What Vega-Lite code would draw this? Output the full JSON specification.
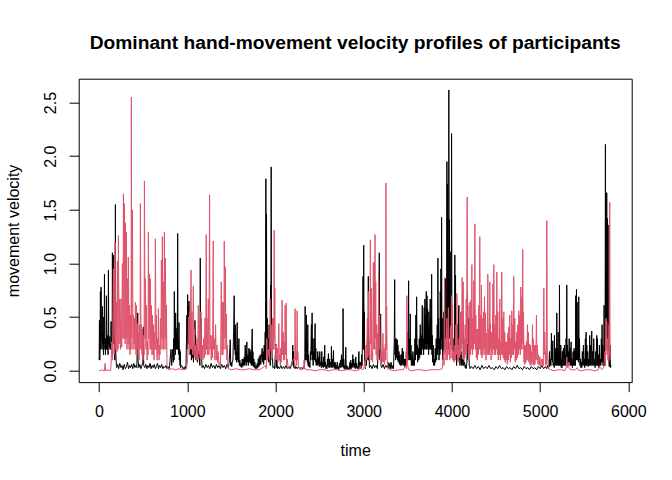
{
  "$schema": "https://vega.github.io/schema/vega-lite/v6.json",
  "width": 553,
  "height": 303.4,
  "autosize": {"type": "none"},
  "padding": {"left": 78.7, "top": 78.7, "right": 40.3, "bottom": 97.9},
  "background": "white",
  "title": {
    "text": "Dominant hand-movement velocity profiles of participants",
    "font": "Liberation Sans",
    "fontSize": 19.2,
    "fontWeight": "bold",
    "color": "black",
    "anchor": "middle",
    "frame": "group",
    "baseline": "alphabetic",
    "offset": 10.2
  },
  "config": {
    "view": {"stroke": "black", "strokeWidth": 1},
    "axis": {
      "domain": false,
      "grid": false,
      "tickColor": "black",
      "tickSize": 9.6,
      "tickWidth": 1,
      "labelFont": "Liberation Sans",
      "labelFontSize": 16,
      "labelColor": "black",
      "titleFont": "Liberation Sans",
      "titleFontSize": 16,
      "titleFontWeight": "normal",
      "titleColor": "black"
    }
  },
  "datasets": {
    "black": [
      {"t":1,"v":0.1},{"t":4,"v":0.47},{"t":8,"v":0.1},{"t":12,"v":0.35},{"t":15,"v":0.74},{"t":19,"v":0.2},{"t":23,"v":0.78},{"t":27,"v":0.3},{"t":31,"v":0.35},{"t":34,"v":0.2},{"t":38,"v":0.6},{"t":42,"v":0.25},{"t":46,"v":0.35},{"t":50,"v":0.15},{"t":53,"v":0.5},{"t":57,"v":0.2},{"t":61,"v":0.9},{"t":65,"v":0.25},{"t":68,"v":0.3},{"t":72,"v":0.15},{"t":76,"v":0.3},{"t":80,"v":0.2},{"t":83,"v":0.7},{"t":87,"v":0.2},{"t":91,"v":0.3},{"t":95,"v":0.2},{"t":98,"v":0.33},{"t":102,"v":0.15},{"t":106,"v":0.94},{"t":110,"v":0.25},{"t":113,"v":0.3},{"t":117,"v":0.22},{"t":121,"v":0.32},{"t":125,"v":0.2},{"t":129,"v":0.25},{"t":133,"v":0.2},{"t":136,"v":0.46},{"t":140,"v":0.2},{"t":144,"v":0.3},{"t":148,"v":0.25},{"t":151,"v":1.1},{"t":155,"v":0.3},{"t":159,"v":0.35},{"t":163,"v":0.25},{"t":166,"v":1.08},{"t":170,"v":0.25},{"t":174,"v":0.3},{"t":178,"v":0.1},{"t":182,"v":0.5},{"t":185,"v":1.55},{"t":189,"v":0.2},{"t":193,"v":0.1},{"t":197,"v":0.05},{"t":200,"v":0.03},
      {"t":210,"v":0.06},{"t":222,"v":0.02},{"t":235,"v":0.07},{"t":248,"v":0.03},{"t":260,"v":0.05},{"t":272,"v":0.01},{"t":285,"v":0.06},{"t":298,"v":0.02},{"t":310,"v":0.04},{"t":322,"v":0.08},{"t":334,"v":0.02},{"t":346,"v":0.05},{"t":358,"v":0.03},{"t":370,"v":0.06},{"t":382,"v":0.02},{"t":394,"v":0.07},{"t":406,"v":0.03},{"t":418,"v":0.05},{"t":428,"v":0.03},{"t":434,"v":0.25},{"t":438,"v":0.54},{"t":442,"v":0.1},{"t":450,"v":0.03},{"t":462,"v":0.06},{"t":474,"v":0.02},{"t":486,"v":0.05},{"t":496,"v":0.08},{"t":502,"v":0.41},{"t":506,"v":0.05},{"t":518,"v":0.03},{"t":530,"v":0.06},{"t":542,"v":0.02},{"t":554,"v":0.05},{"t":566,"v":0.03},{"t":578,"v":0.07},{"t":590,"v":0.02},{"t":602,"v":0.05},{"t":614,"v":0.03},{"t":626,"v":0.06},{"t":638,"v":0.02},{"t":650,"v":0.04},{"t":662,"v":0.07},{"t":674,"v":0.02},{"t":686,"v":0.05},{"t":698,"v":0.03},{"t":710,"v":0.06},{"t":722,"v":0.02},{"t":734,"v":0.04},{"t":746,"v":0.03},{"t":758,"v":0.05},{"t":770,"v":0.02},{"t":782,"v":0.04},{"t":794,"v":0.02},
      {"t":800,"v":0.05},{"t":815,"v":0.2},{"t":823,"v":0.05},{"t":834,"v":0.2},{"t":842,"v":0.08},{"t":846,"v":0.3},{"t":850,"v":0.1},{"t":853,"v":0.74},{"t":857,"v":0.2},{"t":861,"v":0.3},{"t":864,"v":0.15},{"t":868,"v":0.54},{"t":872,"v":0.25},{"t":876,"v":0.35},{"t":880,"v":0.2},{"t":883,"v":0.4},{"t":887,"v":0.2},{"t":891,"v":1.28},{"t":895,"v":0.2},{"t":898,"v":0.3},{"t":902,"v":0.15},{"t":906,"v":0.45},{"t":910,"v":0.1},{"t":914,"v":0.2},{"t":918,"v":0.05},{"t":921,"v":0.18},{"t":925,"v":0.03},{"t":929,"v":0.05},{"t":944,"v":0.04},{"t":952,"v":0.02},{"t":959,"v":0.03},{"t":967,"v":0.01},{"t":974,"v":0.04},{"t":985,"v":0.02},
      {"t":996,"v":0.52},{"t":1000,"v":0.2},{"t":1004,"v":0.71},{"t":1008,"v":0.3},{"t":1011,"v":0.6},{"t":1015,"v":0.25},{"t":1019,"v":0.65},{"t":1023,"v":0.3},{"t":1026,"v":0.49},{"t":1030,"v":0.2},{"t":1034,"v":0.38},{"t":1038,"v":0.15},{"t":1042,"v":0.27},{"t":1047,"v":0.1},{"t":1053,"v":0.3},{"t":1058,"v":0.12},{"t":1064,"v":0.18},{"t":1070,"v":0.08},{"t":1076,"v":0.24},{"t":1081,"v":0.15},{"t":1087,"v":0.47},{"t":1091,"v":0.2},{"t":1094,"v":0.33},{"t":1098,"v":0.1},{"t":1102,"v":0.24},{"t":1106,"v":0.1},{"t":1110,"v":0.22},{"t":1115,"v":0.08},{"t":1125,"v":0.18},{"t":1136,"v":0.11},{"t":1143,"v":0.05},{"t":1147,"v":1.05},{"t":1151,"v":0.2},{"t":1155,"v":0.49},{"t":1159,"v":0.1},{"t":1162,"v":0.11},{"t":1168,"v":0.03},
      {"t":1180,"v":0.05},{"t":1195,"v":0.02},{"t":1210,"v":0.06},{"t":1225,"v":0.03},{"t":1240,"v":0.05},{"t":1255,"v":0.02},{"t":1270,"v":0.07},{"t":1285,"v":0.03},{"t":1300,"v":0.05},{"t":1315,"v":0.02},{"t":1330,"v":0.06},{"t":1345,"v":0.03},{"t":1360,"v":0.05},{"t":1375,"v":0.02},{"t":1390,"v":0.06},{"t":1405,"v":0.03},{"t":1420,"v":0.05},{"t":1435,"v":0.02},{"t":1450,"v":0.06},{"t":1465,"v":0.03},
      {"t":1475,"v":0.08},{"t":1487,"v":0.29},{"t":1492,"v":0.05},{"t":1498,"v":0.08},{"t":1504,"v":0.04},{"t":1510,"v":0.08},{"t":1517,"v":0.1},{"t":1525,"v":0.36},{"t":1532,"v":0.7},{"t":1536,"v":0.2},{"t":1540,"v":0.33},{"t":1544,"v":0.15},{"t":1547,"v":0.43},{"t":1551,"v":0.1},{"t":1555,"v":0.18},{"t":1559,"v":0.08},{"t":1566,"v":0.45},{"t":1570,"v":0.1},{"t":1574,"v":0.24},{"t":1578,"v":0.08},{"t":1585,"v":0.3},{"t":1590,"v":0.05},{"t":1596,"v":0.1},{"t":1602,"v":0.04},{"t":1611,"v":0.07},{"t":1617,"v":0.03},{"t":1623,"v":0.11},{"t":1628,"v":0.04},{"t":1634,"v":0.11},{"t":1640,"v":0.05},{"t":1646,"v":0.13},{"t":1651,"v":0.05},{"t":1657,"v":0.24},{"t":1661,"v":0.08},{"t":1664,"v":0.18},{"t":1668,"v":0.05},{"t":1675,"v":0.27},{"t":1680,"v":0.08},{"t":1687,"v":0.15},{"t":1692,"v":0.05},{"t":1698,"v":0.21},{"t":1703,"v":0.08},{"t":1710,"v":0.2},{"t":1715,"v":0.07},{"t":1721,"v":0.18},{"t":1726,"v":0.05},{"t":1736,"v":0.39},{"t":1740,"v":0.05},{"t":1744,"v":0.18},{"t":1750,"v":0.04},{"t":1755,"v":0.11},{"t":1760,"v":0.03},{"t":1766,"v":0.08},{"t":1772,"v":0.02},{"t":1781,"v":0.05},{"t":1788,"v":0.02},{"t":1793,"v":0.07},{"t":1800,"v":0.03},{"t":1804,"v":0.11},{"t":1810,"v":0.04},{"t":1815,"v":0.13},{"t":1820,"v":0.05},{"t":1827,"v":0.15},{"t":1833,"v":0.06},{"t":1849,"v":0.21},{"t":1855,"v":0.08},{"t":1861,"v":0.18},{"t":1866,"v":0.06},{"t":1872,"v":0.24},{"t":1878,"v":0.1},{"t":1883,"v":0.36},{"t":1887,"v":0.1},{"t":1891,"v":1.79},{"t":1894,"v":0.3},{"t":1898,"v":1.46},{"t":1902,"v":0.2},{"t":1906,"v":0.49},{"t":1911,"v":0.1},{"t":1917,"v":0.3},{"t":1923,"v":0.08},{"t":1928,"v":0.43},{"t":1932,"v":0.1},{"t":1936,"v":0.18},{"t":1940,"v":0.05},{"t":1944,"v":0.8},{"t":1947,"v":0.3},{"t":1951,"v":1.9},{"t":1955,"v":0.2},{"t":1958,"v":0.36},{"t":1962,"v":0.1},{"t":1966,"v":0.11},{"t":1970,"v":0.03},
      {"t":1985,"v":0.04},{"t":1990,"v":0.02},{"t":2004,"v":0.25},{"t":2008,"v":0.03},{"t":2015,"v":0.11},{"t":2022,"v":0.02},{"t":2030,"v":0.04},{"t":2045,"v":0.02},{"t":2060,"v":0.05},{"t":2075,"v":0.02},{"t":2090,"v":0.04},{"t":2105,"v":0.02},{"t":2120,"v":0.05},{"t":2135,"v":0.02},{"t":2150,"v":0.04},{"t":2165,"v":0.02},{"t":2180,"v":0.05},{"t":2192,"v":0.1},{"t":2196,"v":0.24},{"t":2200,"v":0.05},{"t":2204,"v":0.18},{"t":2208,"v":0.03},{"t":2215,"v":0.08},{"t":2222,"v":0.02},{"t":2230,"v":0.04},{"t":2245,"v":0.02},{"t":2260,"v":0.04},{"t":2275,"v":0.02},{"t":2290,"v":0.03},{"t":2305,"v":0.02},{"t":2318,"v":0.04},{"t":2326,"v":0.02},{"t":2332,"v":0.1},
      {"t":2336,"v":0.6},{"t":2340,"v":0.1},{"t":2344,"v":0.3},{"t":2348,"v":0.15},{"t":2351,"v":0.52},{"t":2355,"v":0.1},{"t":2358,"v":0.24},{"t":2362,"v":0.08},{"t":2366,"v":0.43},{"t":2370,"v":0.05},{"t":2373,"v":0.15},{"t":2377,"v":0.04},{"t":2385,"v":0.08},{"t":2390,"v":0.03},{"t":2396,"v":0.18},{"t":2400,"v":0.1},{"t":2407,"v":0.43},{"t":2411,"v":0.15},{"t":2415,"v":0.54},{"t":2419,"v":0.1},{"t":2423,"v":0.3},{"t":2427,"v":0.05},{"t":2430,"v":0.18},{"t":2435,"v":0.1},{"t":2438,"v":0.3},{"t":2442,"v":0.1},{"t":2449,"v":0.44},{"t":2453,"v":0.08},{"t":2457,"v":0.21},{"t":2461,"v":0.05},{"t":2468,"v":0.11},{"t":2474,"v":0.05},{"t":2479,"v":0.18},{"t":2485,"v":0.06},{"t":2490,"v":0.13},{"t":2496,"v":0.04},{"t":2502,"v":0.18},{"t":2508,"v":0.05},{"t":2513,"v":0.08},{"t":2519,"v":0.03},{"t":2525,"v":0.18},{"t":2530,"v":0.04},{"t":2536,"v":0.08},{"t":2542,"v":0.03},{"t":2547,"v":0.13},{"t":2553,"v":0.04},{"t":2558,"v":0.24},{"t":2562,"v":0.04},{"t":2566,"v":0.08},{"t":2572,"v":0.02},{"t":2577,"v":0.05},{"t":2583,"v":0.02},{"t":2589,"v":0.11},{"t":2594,"v":0.04},{"t":2600,"v":0.16},{"t":2606,"v":0.03},{"t":2611,"v":0.11},{"t":2617,"v":0.03},{"t":2624,"v":0.08},{"t":2630,"v":0.04},{"t":2634,"v":0.23},{"t":2638,"v":0.03},{"t":2645,"v":0.11},{"t":2650,"v":0.03},{"t":2657,"v":0.19},{"t":2661,"v":0.04},{"t":2665,"v":0.08},{"t":2672,"v":0.02},{"t":2676,"v":0.08},{"t":2683,"v":0.02},{"t":2687,"v":0.05},{"t":2693,"v":0.02},{"t":2700,"v":0.08},{"t":2706,"v":0.02},{"t":2712,"v":0.04},{"t":2718,"v":0.01},{"t":2725,"v":0.07},{"t":2731,"v":0.03},{"t":2737,"v":0.1},{"t":2742,"v":0.03},{"t":2748,"v":0.15},{"t":2754,"v":0.04},{"t":2760,"v":0.11},{"t":2763,"v":0.04},{"t":2766,"v":0.58},{"t":2770,"v":0.03},{"t":2774,"v":0.11},{"t":2778,"v":0.02},{"t":2785,"v":0.05},{"t":2790,"v":0.01},{"t":2797,"v":0.22},{"t":2802,"v":0.02},{"t":2808,"v":0.05},{"t":2814,"v":0.01},{"t":2820,"v":0.04},{"t":2826,"v":0.01},{"t":2830,"v":0.02},{"t":2836,"v":0.01},{"t":2843,"v":0.08},{"t":2849,"v":0.02},{"t":2853,"v":0.1},{"t":2859,"v":0.02},{"t":2864,"v":0.07},{"t":2870,"v":0.03},{"t":2876,"v":0.15},{"t":2881,"v":0.04},{"t":2887,"v":0.11},{"t":2892,"v":0.03},{"t":2898,"v":0.07},{"t":2904,"v":0.02},{"t":2910,"v":0.13},{"t":2915,"v":0.03},{"t":2921,"v":0.07},{"t":2927,"v":0.02},{"t":2932,"v":0.04},{"t":2938,"v":0.02},{"t":2945,"v":0.18},{"t":2950,"v":0.03},{"t":2955,"v":0.08},{"t":2960,"v":0.02},{"t":2966,"v":0.08},{"t":2972,"v":0.03},{"t":2977,"v":0.15},{"t":2981,"v":0.05},{"t":2985,"v":0.24},
      {"t":2992,"v":0.88},{"t":2996,"v":0.2},{"t":3000,"v":1.17},{"t":3004,"v":0.2},{"t":3007,"v":0.55},{"t":3011,"v":0.1},{"t":3015,"v":0.08},{"t":3020,"v":0.02},{"t":3026,"v":0.13},{"t":3030,"v":0.05},{"t":3045,"v":0.33},{"t":3049,"v":0.1},{"t":3052,"v":0.88},{"t":3056,"v":0.1},{"t":3060,"v":0.2},{"t":3065,"v":0.03},{"t":3080,"v":0.05},{"t":3095,"v":0.02},{"t":3110,"v":0.06},{"t":3125,"v":0.03},{"t":3140,"v":0.05},{"t":3155,"v":0.02},{"t":3165,"v":0.2},{"t":3177,"v":1.1},{"t":3181,"v":0.1},{"t":3185,"v":0.2},{"t":3192,"v":0.53},{"t":3196,"v":0.05},{"t":3205,"v":0.03},{"t":3220,"v":0.06},{"t":3235,"v":0.02},{"t":3250,"v":0.05},{"t":3265,"v":0.03},{"t":3275,"v":0.08},{"t":3285,"v":0.02},{"t":3296,"v":0.07},{"t":3303,"v":0.02},{"t":3310,"v":0.08},{"t":3320,"v":0.02},{"t":3330,"v":0.05},{"t":3338,"v":0.02},{"t":3347,"v":0.3},{"t":3351,"v":0.85},{"t":3355,"v":0.15},{"t":3358,"v":0.3},{"t":3362,"v":0.1},{"t":3369,"v":0.3},{"t":3373,"v":0.12},{"t":3380,"v":0.29},{"t":3385,"v":0.1},{"t":3388,"v":0.24},{"t":3392,"v":0.08},{"t":3400,"v":0.18},{"t":3405,"v":0.06},{"t":3411,"v":0.15},{"t":3417,"v":0.05},{"t":3426,"v":0.15},{"t":3431,"v":0.05},{"t":3437,"v":0.21},{"t":3441,"v":0.06},{"t":3449,"v":0.18},{"t":3454,"v":0.05},{"t":3460,"v":0.11},{"t":3466,"v":0.04},{"t":3471,"v":0.11},{"t":3477,"v":0.04},{"t":3483,"v":0.18},{"t":3488,"v":0.08},{"t":3498,"v":0.36},{"t":3503,"v":0.1},{"t":3509,"v":0.84},{"t":3513,"v":0.15},{"t":3517,"v":0.3},{"t":3521,"v":0.1},{"t":3528,"v":0.53},{"t":3532,"v":0.1},{"t":3536,"v":0.24},{"t":3540,"v":0.05},{"t":3547,"v":0.15},{"t":3553,"v":0.05},{"t":3558,"v":0.18},{"t":3564,"v":0.05},{"t":3570,"v":0.11},{"t":3575,"v":0.05},{"t":3581,"v":0.3},{"t":3585,"v":0.1},{"t":3592,"v":0.52},{"t":3596,"v":0.15},{"t":3600,"v":0.69},{"t":3604,"v":0.2},{"t":3607,"v":0.24},{"t":3611,"v":0.08},{"t":3619,"v":0.21},{"t":3624,"v":0.1},{"t":3630,"v":0.3},{"t":3634,"v":0.12},{"t":3641,"v":0.43},{"t":3646,"v":0.15},{"t":3652,"v":0.33},{"t":3656,"v":0.15},{"t":3664,"v":0.61},{"t":3668,"v":0.2},{"t":3675,"v":0.3},{"t":3679,"v":0.15},{"t":3686,"v":0.59},{"t":3690,"v":0.2},{"t":3694,"v":0.67},{"t":3698,"v":0.25},{"t":3702,"v":0.52},{"t":3705,"v":0.2},{"t":3709,"v":0.74},{"t":3713,"v":0.2},{"t":3717,"v":0.7},{"t":3721,"v":0.25},{"t":3724,"v":0.58},{"t":3728,"v":0.2},{"t":3732,"v":0.43},{"t":3736,"v":0.15},{"t":3739,"v":0.55},{"t":3743,"v":0.2},{"t":3754,"v":0.67},{"t":3758,"v":0.2},{"t":3762,"v":0.49},{"t":3766,"v":0.2},{"t":3770,"v":0.9},{"t":3774,"v":0.15},{"t":3777,"v":0.33},{"t":3781,"v":0.08},{"t":3788,"v":0.24},{"t":3792,"v":0.05},{"t":3800,"v":0.11},{"t":3804,"v":0.05},{"t":3811,"v":0.21},{"t":3815,"v":0.08},{"t":3822,"v":0.3},{"t":3826,"v":0.1},{"t":3834,"v":0.43},{"t":3838,"v":0.15},{"t":3841,"v":1.05},{"t":3845,"v":0.2},{"t":3849,"v":0.49},{"t":3853,"v":0.1},{"t":3860,"v":0.3},{"t":3864,"v":0.15},{"t":3868,"v":0.74},{"t":3872,"v":0.2},{"t":3875,"v":0.95},{"t":3879,"v":0.3},{"t":3883,"v":1.43},{"t":3887,"v":0.2},{"t":3890,"v":0.49},{"t":3894,"v":0.1},{"t":3898,"v":0.27},{"t":3902,"v":0.1},{"t":3909,"v":0.55},{"t":3913,"v":0.2},{"t":3917,"v":0.8},{"t":3921,"v":0.25},{"t":3928,"v":0.86},{"t":3932,"v":0.2},{"t":3936,"v":0.43},{"t":3940,"v":0.2},{"t":3943,"v":1.95},{"t":3946,"v":0.4},{"t":3950,"v":1.74},{"t":3954,"v":0.3},{"t":3957,"v":0.8},{"t":3961,"v":0.2},{"t":3965,"v":2.617},{"t":3969,"v":0.4},{"t":3972,"v":1.41},{"t":3976,"v":0.3},{"t":3980,"v":1.11},{"t":3984,"v":0.27},{"t":3988,"v":0.24},{"t":3993,"v":0.3},{"t":3996,"v":2.21},{"t":4000,"v":0.4},{"t":4004,"v":0.49},{"t":4008,"v":0.2},{"t":4011,"v":0.3},{"t":4015,"v":0.1},{"t":4018,"v":0.18},{"t":4022,"v":0.1},{"t":4026,"v":0.3},{"t":4030,"v":0.2},{"t":4033,"v":1.08},{"t":4037,"v":0.3},{"t":4041,"v":0.89},{"t":4045,"v":0.1},{"t":4049,"v":0.24},{"t":4053,"v":0.05},{"t":4056,"v":0.15},{"t":4064,"v":0.43},{"t":4070,"v":0.2},{"t":4075,"v":0.5},{"t":4079,"v":0.61},{"t":4083,"v":0.1},{"t":4087,"v":0.24},{"t":4091,"v":0.05},{"t":4098,"v":0.15},{"t":4106,"v":0.18},{"t":4110,"v":0.05},{"t":4120,"v":0.11},{"t":4126,"v":0.05},{"t":4131,"v":0.46},{"t":4135,"v":0.05},{"t":4143,"v":0.08},{"t":4150,"v":0.03},{"t":4156,"v":0.05},{"t":4162,"v":0.02},{"t":4170,"v":0.08},{"t":4174,"v":0.3},{"t":4177,"v":0.72},{"t":4181,"v":0.1},{"t":4185,"v":0.3},{"t":4189,"v":0.15},{"t":4192,"v":0.49},{"t":4196,"v":0.05},{"t":4200,"v":0.05},{"t":4205,"v":0.02},
      {"t":4220,"v":0.04},{"t":4240,"v":0.02},{"t":4260,"v":0.05},{"t":4280,"v":0.02},{"t":4300,"v":0.04},{"t":4320,"v":0.01},{"t":4340,"v":0.05},{"t":4360,"v":0.02},{"t":4380,"v":0.04},{"t":4400,"v":0.02},{"t":4420,"v":0.05},{"t":4440,"v":0.02},{"t":4460,"v":0.03},{"t":4480,"v":0.01},{"t":4500,"v":0.04},{"t":4520,"v":0.02},{"t":4540,"v":0.05},{"t":4560,"v":0.02},{"t":4580,"v":0.03},{"t":4600,"v":0.01},{"t":4620,"v":0.04},{"t":4640,"v":0.02},{"t":4660,"v":0.03},{"t":4680,"v":0.01},{"t":4700,"v":0.04},{"t":4720,"v":0.02},{"t":4740,"v":0.05},{"t":4760,"v":0.02},{"t":4780,"v":0.03},{"t":4800,"v":0.01},{"t":4820,"v":0.04},{"t":4840,"v":0.02},{"t":4860,"v":0.03},{"t":4880,"v":0.01},{"t":4900,"v":0.04},{"t":4920,"v":0.02},{"t":4940,"v":0.03},{"t":4960,"v":0.01},{"t":4980,"v":0.04},{"t":5000,"v":0.02},{"t":5020,"v":0.05},{"t":5040,"v":0.02},{"t":5060,"v":0.04},{"t":5075,"v":0.02},{"t":5085,"v":0.05},{"t":5095,"v":0.02},
      {"t":5100,"v":0.05},{"t":5106,"v":0.18},{"t":5110,"v":0.04},{"t":5117,"v":0.11},{"t":5122,"v":0.05},{"t":5128,"v":0.35},{"t":5132,"v":0.1},{"t":5136,"v":0.18},{"t":5140,"v":0.08},{"t":5143,"v":0.28},{"t":5147,"v":0.05},{"t":5155,"v":0.08},{"t":5160,"v":0.03},{"t":5162,"v":0.33},{"t":5166,"v":0.08},{"t":5170,"v":0.21},{"t":5174,"v":0.05},{"t":5181,"v":0.18},{"t":5185,"v":0.05},{"t":5189,"v":0.54},{"t":5193,"v":0.08},{"t":5196,"v":0.21},{"t":5200,"v":0.05},{"t":5204,"v":0.36},{"t":5208,"v":0.05},{"t":5212,"v":0.18},{"t":5216,"v":0.05},{"t":5219,"v":0.8},{"t":5223,"v":0.05},{"t":5228,"v":0.18},{"t":5232,"v":0.05},{"t":5234,"v":0.24},{"t":5240,"v":0.03},{"t":5242,"v":0.11},{"t":5248,"v":0.03},{"t":5253,"v":0.18},{"t":5258,"v":0.05},{"t":5264,"v":0.21},{"t":5270,"v":0.05},{"t":5276,"v":0.24},{"t":5280,"v":0.05},{"t":5283,"v":0.15},{"t":5290,"v":0.05},{"t":5294,"v":0.3},{"t":5298,"v":0.1},{"t":5302,"v":0.8},{"t":5306,"v":0.08},{"t":5310,"v":0.24},{"t":5315,"v":0.05},{"t":5321,"v":0.18},{"t":5325,"v":0.05},{"t":5329,"v":0.3},{"t":5333,"v":0.08},{"t":5340,"v":0.21},{"t":5344,"v":0.05},{"t":5351,"v":0.27},{"t":5355,"v":0.05},{"t":5362,"v":0.11},{"t":5366,"v":0.03},{"t":5374,"v":0.18},{"t":5378,"v":0.05},{"t":5385,"v":0.21},{"t":5390,"v":0.05},{"t":5396,"v":0.18},{"t":5400,"v":0.05},{"t":5404,"v":0.7},{"t":5408,"v":0.1},{"t":5412,"v":0.76},{"t":5416,"v":0.1},{"t":5419,"v":0.64},{"t":5423,"v":0.1},{"t":5430,"v":0.24},{"t":5434,"v":0.08},{"t":5438,"v":0.69},{"t":5442,"v":0.1},{"t":5446,"v":0.3},{"t":5451,"v":0.05},{"t":5457,"v":0.11},{"t":5462,"v":0.03},{"t":5468,"v":0.08},{"t":5472,"v":0.03},{"t":5479,"v":0.18},{"t":5483,"v":0.05},{"t":5491,"v":0.24},{"t":5495,"v":0.05},{"t":5502,"v":0.11},{"t":5506,"v":0.03},{"t":5513,"v":0.3},{"t":5517,"v":0.05},{"t":5521,"v":0.36},{"t":5525,"v":0.05},{"t":5529,"v":0.24},{"t":5533,"v":0.05},{"t":5540,"v":0.18},{"t":5545,"v":0.04},{"t":5551,"v":0.11},{"t":5556,"v":0.05},{"t":5562,"v":0.33},{"t":5566,"v":0.05},{"t":5573,"v":0.24},{"t":5577,"v":0.05},{"t":5585,"v":0.37},{"t":5589,"v":0.05},{"t":5596,"v":0.18},{"t":5600,"v":0.05},{"t":5608,"v":0.3},{"t":5612,"v":0.05},{"t":5619,"v":0.11},{"t":5623,"v":0.03},{"t":5630,"v":0.18},{"t":5634,"v":0.05},{"t":5642,"v":0.33},{"t":5646,"v":0.05},{"t":5649,"v":0.3},{"t":5653,"v":0.05},{"t":5661,"v":0.15},{"t":5665,"v":0.03},{"t":5672,"v":0.24},{"t":5676,"v":0.05},{"t":5683,"v":0.11},{"t":5688,"v":0.05},{"t":5694,"v":0.3},{"t":5698,"v":0.08},{"t":5702,"v":0.43},{"t":5706,"v":0.08},{"t":5710,"v":0.24},{"t":5714,"v":0.05},{"t":5717,"v":0.18},{"t":5721,"v":0.05},{"t":5725,"v":0.61},{"t":5729,"v":0.05},{"t":5733,"v":0.18},{"t":5736,"v":0.05},{"t":5740,"v":2.11},{"t":5744,"v":0.3},{"t":5747,"v":0.92},{"t":5751,"v":0.2},{"t":5755,"v":1.66},{"t":5759,"v":0.3},{"t":5762,"v":1.42},{"t":5766,"v":0.2},{"t":5770,"v":1.36},{"t":5774,"v":0.1},{"t":5777,"v":0.24},{"t":5781,"v":0.05},{"t":5785,"v":0.04},{"t":5793,"v":0.24},{"t":5797,"v":0.03},{"t":5804,"v":0.05}
    ],
    "red": [
      {"t":1,"v":0},{"t":30,"v":0.01},{"t":60,"v":0},{"t":68,"v":0.07},{"t":76,"v":0},{"t":100,"v":0.01},{"t":130,"v":0},
      {"t":136,"v":0.05},{"t":144,"v":0.27},{"t":151,"v":0.1},{"t":163,"v":0.95},{"t":170,"v":0.15},{"t":181,"v":1.2},{"t":189,"v":0.2},{"t":197,"v":0.64},{"t":204,"v":0.18},{"t":208,"v":1.02},{"t":215,"v":0.2},{"t":219,"v":1.26},{"t":227,"v":0.25},{"t":234,"v":0.67},{"t":242,"v":0.2},{"t":249,"v":0.67},{"t":257,"v":0.22},{"t":264,"v":1.0},{"t":272,"v":0.3},{"t":276,"v":1.65},{"t":283,"v":0.3},{"t":287,"v":1.56},{"t":295,"v":0.25},{"t":298,"v":1.38},{"t":306,"v":0.3},{"t":310,"v":1.29},{"t":317,"v":0.2},{"t":321,"v":0.86},{"t":329,"v":0.25},{"t":332,"v":1.06},{"t":340,"v":0.2},{"t":344,"v":0.61},{"t":351,"v":0.15},{"t":355,"v":0.52},{"t":363,"v":0.2},{"t":366,"v":2.55},{"t":370,"v":0.3},{"t":378,"v":1.5},{"t":385,"v":0.2},{"t":389,"v":0.52},{"t":397,"v":0.25},{"t":400,"v":0.49},{"t":408,"v":0.2},{"t":412,"v":0.64},{"t":419,"v":0.15},{"t":423,"v":0.61},{"t":430,"v":0.2},{"t":434,"v":0.44},{"t":442,"v":0.15},{"t":446,"v":0.36},{"t":453,"v":0.1},{"t":457,"v":0.43},{"t":465,"v":0.2},{"t":468,"v":1.56},{"t":476,"v":0.2},{"t":480,"v":0.43},{"t":487,"v":0.15},{"t":491,"v":0.39},{"t":498,"v":0.1},{"t":502,"v":0.33},{"t":510,"v":0.15},{"t":514,"v":1.77},{"t":521,"v":0.3},{"t":525,"v":0.86},{"t":532,"v":0.2},{"t":536,"v":0.61},{"t":544,"v":0.1},{"t":548,"v":0.27},{"t":555,"v":0.15},{"t":559,"v":1.29},{"t":566,"v":0.3},{"t":570,"v":0.9},{"t":578,"v":0.2},{"t":581,"v":0.86},{"t":589,"v":0.2},{"t":593,"v":0.61},{"t":600,"v":0.15},{"t":604,"v":0.52},{"t":612,"v":0.15},{"t":615,"v":0.43},{"t":623,"v":0.1},{"t":627,"v":0.36},{"t":634,"v":0.2},{"t":638,"v":1.23},{"t":646,"v":0.2},{"t":649,"v":0.52},{"t":657,"v":0.1},{"t":661,"v":0.3},{"t":668,"v":0.15},{"t":672,"v":0.58},{"t":680,"v":0.1},{"t":683,"v":0.24},{"t":691,"v":0.15},{"t":695,"v":0.49},{"t":702,"v":0.2},{"t":706,"v":1.03},{"t":714,"v":0.3},{"t":717,"v":1.25},{"t":725,"v":0.2},{"t":729,"v":0.83},{"t":736,"v":0.2},{"t":740,"v":1.29},{"t":748,"v":0.3},{"t":751,"v":1.05},{"t":759,"v":0.2},{"t":763,"v":0.61},{"t":770,"v":0.05},
      {"t":790,"v":0.01},{"t":830,"v":0.02},{"t":870,"v":0.01},{"t":910,"v":0.02},{"t":950,"v":0.01},{"t":990,"v":0.02},
      {"t":1004,"v":0.1},{"t":1015,"v":0.5},{"t":1023,"v":0.15},{"t":1030,"v":0.55},{"t":1034,"v":0.2},{"t":1042,"v":0.94},{"t":1049,"v":0.2},{"t":1053,"v":0.55},{"t":1060,"v":0.15},{"t":1068,"v":0.79},{"t":1076,"v":0.15},{"t":1079,"v":0.39},{"t":1087,"v":0.12},{"t":1094,"v":0.24},{"t":1102,"v":0.1},{"t":1110,"v":0.3},{"t":1117,"v":0.1},{"t":1125,"v":0.61},{"t":1132,"v":0.15},{"t":1140,"v":0.43},{"t":1147,"v":0.12},{"t":1155,"v":0.55},{"t":1162,"v":0.1},{"t":1170,"v":0.24},{"t":1177,"v":0.1},{"t":1185,"v":0.3},{"t":1193,"v":0.12},{"t":1200,"v":0.49},{"t":1208,"v":0.15},{"t":1215,"v":1.27},{"t":1219,"v":0.2},{"t":1223,"v":0.49},{"t":1230,"v":0.15},{"t":1238,"v":0.67},{"t":1245,"v":0.15},{"t":1253,"v":1.64},{"t":1257,"v":0.2},{"t":1264,"v":0.33},{"t":1272,"v":0.1},{"t":1279,"v":0.33},{"t":1287,"v":0.12},{"t":1294,"v":1.21},{"t":1298,"v":0.2},{"t":1306,"v":0.3},{"t":1313,"v":0.1},{"t":1321,"v":0.43},{"t":1328,"v":0.1},{"t":1336,"v":0.24},{"t":1343,"v":0.08},{"t":1351,"v":0.18},{"t":1359,"v":0.06},{"t":1370,"v":0.08},{"t":1377,"v":0.05},{"t":1385,"v":0.83},{"t":1393,"v":0.15},{"t":1396,"v":0.64},{"t":1404,"v":0.15},{"t":1408,"v":0.64},{"t":1415,"v":0.2},{"t":1419,"v":1.21},{"t":1427,"v":0.3},{"t":1430,"v":0.97},{"t":1438,"v":0.2},{"t":1442,"v":0.53},{"t":1449,"v":0.1},{"t":1453,"v":0.24},{"t":1461,"v":0.05},{"t":1464,"v":0.02},
      {"t":1500,"v":0.01},{"t":1550,"v":0.02},{"t":1600,"v":0.01},{"t":1650,"v":0.01},{"t":1700,"v":0.02},{"t":1750,"v":0.01},{"t":1800,"v":0.01},{"t":1840,"v":0.02},
      {"t":1887,"v":0.05},{"t":1895,"v":0.02},{"t":1902,"v":0.3},{"t":1910,"v":0.1},{"t":1921,"v":0.2},{"t":1932,"v":0.1},{"t":1940,"v":0.67},{"t":1947,"v":0.2},{"t":1951,"v":0.43},{"t":1958,"v":0.15},{"t":1966,"v":0.49},{"t":1970,"v":0.2},{"t":1977,"v":0.49},{"t":1981,"v":0.2},{"t":1985,"v":1.31},{"t":1989,"v":0.3},{"t":1992,"v":0.77},{"t":1996,"v":0.2},{"t":2000,"v":0.24},{"t":2004,"v":0.1},{"t":2011,"v":0.25},{"t":2015,"v":0.1},{"t":2023,"v":0.21},{"t":2030,"v":0.08},{"t":2038,"v":0.44},{"t":2043,"v":0.1},{"t":2049,"v":0.15},{"t":2055,"v":0.05},{"t":2060,"v":0.21},{"t":2066,"v":0.08},{"t":2075,"v":0.66},{"t":2079,"v":0.15},{"t":2087,"v":0.36},{"t":2092,"v":0.1},{"t":2098,"v":0.27},{"t":2104,"v":0.1},{"t":2109,"v":0.61},{"t":2115,"v":0.15},{"t":2121,"v":0.63},{"t":2126,"v":0.05},{"t":2134,"v":0.11},{"t":2143,"v":0.02},{"t":2158,"v":0.04},{"t":2173,"v":0.05},{"t":2196,"v":0.1},{"t":2211,"v":0.11},{"t":2218,"v":0.04},{"t":2222,"v":0.58},{"t":2228,"v":0.1},{"t":2234,"v":0.18},{"t":2240,"v":0.05},{"t":2245,"v":0.56},{"t":2250,"v":0.1},{"t":2253,"v":0.18},{"t":2260,"v":0.05},{"t":2268,"v":0.02},
      {"t":2300,"v":0.01},{"t":2318,"v":0.02},{"t":2324,"v":0.1},{"t":2330,"v":0.02},{"t":2360,"v":0.01},{"t":2400,"v":0.01},{"t":2450,"v":0},{"t":2500,"v":0.01},{"t":2550,"v":0.01},{"t":2600,"v":0},{"t":2650,"v":0.01},{"t":2700,"v":0.01},{"t":2750,"v":0},{"t":2800,"v":0.01},{"t":2850,"v":0.01},{"t":2900,"v":0},{"t":2950,"v":0.01},{"t":2962,"v":0.05},{"t":2975,"v":0.01},{"t":3000,"v":0.02},
      {"t":3011,"v":0.08},{"t":3019,"v":0.03},{"t":3026,"v":0.24},{"t":3031,"v":0.1},{"t":3041,"v":0.49},{"t":3047,"v":0.12},{"t":3056,"v":0.74},{"t":3060,"v":0.15},{"t":3064,"v":0.27},{"t":3070,"v":0.1},{"t":3075,"v":1.22},{"t":3080,"v":0.25},{"t":3086,"v":0.77},{"t":3090,"v":0.1},{"t":3094,"v":0.18},{"t":3101,"v":0.08},{"t":3109,"v":1.01},{"t":3115,"v":0.2},{"t":3120,"v":1.01},{"t":3124,"v":0.2},{"t":3128,"v":1.27},{"t":3132,"v":0.3},{"t":3136,"v":0.83},{"t":3141,"v":0.15},{"t":3147,"v":0.43},{"t":3152,"v":0.1},{"t":3158,"v":0.35},{"t":3164,"v":0.12},{"t":3169,"v":0.86},{"t":3174,"v":0.2},{"t":3181,"v":0.52},{"t":3187,"v":0.1},{"t":3192,"v":0.15},{"t":3200,"v":0.06},{"t":3207,"v":0.18},{"t":3213,"v":0.08},{"t":3218,"v":0.35},{"t":3224,"v":0.08},{"t":3230,"v":0.21},{"t":3237,"v":0.06},{"t":3245,"v":0.25},{"t":3249,"v":0.1},{"t":3252,"v":1.75},{"t":3256,"v":0.2},{"t":3260,"v":0.6},{"t":3265,"v":0.1},{"t":3275,"v":0.02},
      {"t":3300,"v":0.01},{"t":3350,"v":0},{"t":3400,"v":0.01},{"t":3450,"v":0.01},{"t":3475,"v":0.05},{"t":3485,"v":0.02},{"t":3490,"v":0.7},{"t":3495,"v":0.11},{"t":3500,"v":0.04},{"t":3510,"v":0.01},{"t":3550,"v":0},{"t":3600,"v":0.01},{"t":3650,"v":0.01},{"t":3700,"v":0},{"t":3750,"v":0.01},{"t":3800,"v":0.01},{"t":3850,"v":0.01},{"t":3890,"v":0.02},
      {"t":3905,"v":0.18},{"t":3910,"v":0.05},{"t":3917,"v":0.87},{"t":3921,"v":0.15},{"t":3928,"v":0.3},{"t":3933,"v":0.1},{"t":3943,"v":0.49},{"t":3948,"v":0.1},{"t":3960,"v":0.59},{"t":3965,"v":0.15},{"t":3969,"v":0.27},{"t":3975,"v":0.1},{"t":3984,"v":0.42},{"t":3990,"v":0.12},{"t":3996,"v":0.7},{"t":4000,"v":0.2},{"t":4007,"v":0.61},{"t":4012,"v":0.1},{"t":4018,"v":0.18},{"t":4024,"v":0.08},{"t":4033,"v":0.24},{"t":4040,"v":0.1},{"t":4045,"v":0.43},{"t":4050,"v":0.15},{"t":4056,"v":0.72},{"t":4062,"v":0.1},{"t":4067,"v":0.24},{"t":4073,"v":0.08},{"t":4082,"v":0.3},{"t":4088,"v":0.12},{"t":4094,"v":0.55},{"t":4100,"v":0.15},{"t":4105,"v":0.55},{"t":4111,"v":0.2},{"t":4116,"v":0.87},{"t":4120,"v":0.25},{"t":4128,"v":0.83},{"t":4134,"v":0.1},{"t":4139,"v":0.3},{"t":4145,"v":0.12},{"t":4150,"v":0.43},{"t":4156,"v":0.15},{"t":4162,"v":0.67},{"t":4167,"v":0.2},{"t":4173,"v":1.62},{"t":4177,"v":0.25},{"t":4181,"v":0.61},{"t":4187,"v":0.1},{"t":4192,"v":0.24},{"t":4198,"v":0.1},{"t":4203,"v":0.64},{"t":4209,"v":0.15},{"t":4215,"v":0.66},{"t":4220,"v":0.2},{"t":4226,"v":0.99},{"t":4232,"v":0.15},{"t":4237,"v":0.49},{"t":4243,"v":0.2},{"t":4248,"v":0.84},{"t":4254,"v":0.25},{"t":4260,"v":1.37},{"t":4266,"v":0.2},{"t":4271,"v":0.52},{"t":4277,"v":0.12},{"t":4283,"v":0.39},{"t":4288,"v":0.1},{"t":4294,"v":0.39},{"t":4300,"v":0.15},{"t":4305,"v":0.61},{"t":4311,"v":0.2},{"t":4316,"v":1.25},{"t":4320,"v":0.2},{"t":4324,"v":0.52},{"t":4330,"v":0.15},{"t":4335,"v":0.8},{"t":4341,"v":0.12},{"t":4347,"v":0.49},{"t":4352,"v":0.15},{"t":4358,"v":0.55},{"t":4364,"v":0.2},{"t":4369,"v":0.69},{"t":4375,"v":0.15},{"t":4381,"v":0.54},{"t":4386,"v":0.1},{"t":4392,"v":0.35},{"t":4400,"v":0.15},{"t":4407,"v":0.9},{"t":4413,"v":0.15},{"t":4418,"v":0.39},{"t":4424,"v":0.15},{"t":4430,"v":0.83},{"t":4434,"v":0.2},{"t":4437,"v":0.43},{"t":4444,"v":0.1},{"t":4452,"v":0.36},{"t":4458,"v":0.15},{"t":4464,"v":0.81},{"t":4470,"v":0.2},{"t":4475,"v":0.99},{"t":4481,"v":0.15},{"t":4486,"v":0.43},{"t":4492,"v":0.15},{"t":4498,"v":0.52},{"t":4504,"v":0.2},{"t":4509,"v":0.92},{"t":4515,"v":0.15},{"t":4520,"v":0.55},{"t":4526,"v":0.1},{"t":4532,"v":0.3},{"t":4538,"v":0.15},{"t":4543,"v":0.67},{"t":4549,"v":0.1},{"t":4554,"v":0.27},{"t":4560,"v":0.15},{"t":4565,"v":0.92},{"t":4571,"v":0.15},{"t":4577,"v":0.49},{"t":4582,"v":0.12},{"t":4588,"v":0.55},{"t":4594,"v":0.1},{"t":4599,"v":0.36},{"t":4605,"v":0.08},{"t":4611,"v":0.27},{"t":4617,"v":0.1},{"t":4622,"v":0.27},{"t":4628,"v":0.06},{"t":4633,"v":0.35},{"t":4639,"v":0.1},{"t":4645,"v":0.41},{"t":4650,"v":0.15},{"t":4656,"v":0.52},{"t":4662,"v":0.08},{"t":4667,"v":0.3},{"t":4673,"v":0.12},{"t":4679,"v":0.56},{"t":4684,"v":0.15},{"t":4690,"v":0.43},{"t":4696,"v":0.15},{"t":4701,"v":0.88},{"t":4707,"v":0.2},{"t":4713,"v":0.49},{"t":4718,"v":0.08},{"t":4724,"v":0.27},{"t":4730,"v":0.1},{"t":4735,"v":0.36},{"t":4741,"v":0.12},{"t":4747,"v":0.43},{"t":4752,"v":0.15},{"t":4758,"v":0.56},{"t":4764,"v":0.2},{"t":4769,"v":0.52},{"t":4775,"v":0.15},{"t":4781,"v":0.78},{"t":4787,"v":0.2},{"t":4792,"v":0.69},{"t":4797,"v":0.25},{"t":4803,"v":1.13},{"t":4807,"v":0.2},{"t":4811,"v":0.55},{"t":4817,"v":0.08},{"t":4822,"v":0.24},{"t":4828,"v":0.06},{"t":4833,"v":0.24},{"t":4839,"v":0.08},{"t":4845,"v":0.27},{"t":4850,"v":0.1},{"t":4856,"v":0.43},{"t":4862,"v":0.1},{"t":4867,"v":0.36},{"t":4873,"v":0.08},{"t":4879,"v":0.25},{"t":4884,"v":0.06},{"t":4890,"v":0.24},{"t":4896,"v":0.05},{"t":4901,"v":0.18},{"t":4907,"v":0.08},{"t":4913,"v":0.43},{"t":4918,"v":0.06},{"t":4924,"v":0.3},{"t":4930,"v":0.05},{"t":4935,"v":0.24},{"t":4941,"v":0.06},{"t":4947,"v":0.24},{"t":4952,"v":0.1},{"t":4958,"v":0.52},{"t":4964,"v":0.1},{"t":4969,"v":0.24},{"t":4975,"v":0.06},{"t":4981,"v":0.15},
      {"t":4990,"v":0.05},{"t":4998,"v":0.13},{"t":5005,"v":0.04},{"t":5014,"v":0.08},{"t":5020,"v":0.11},{"t":5026,"v":0.05},{"t":5031,"v":0.11},{"t":5036,"v":0.05},{"t":5042,"v":0.77},{"t":5046,"v":0.15},{"t":5053,"v":0.36},{"t":5060,"v":0.06},{"t":5064,"v":0.18},{"t":5070,"v":0.05},{"t":5076,"v":1.4},{"t":5082,"v":0.1},{"t":5087,"v":0.1},{"t":5095,"v":0.02},
      {"t":5120,"v":0.01},{"t":5160,"v":0},{"t":5200,"v":0.01},{"t":5240,"v":0.01},{"t":5280,"v":0},{"t":5295,"v":0.03},{"t":5302,"v":0.13},{"t":5310,"v":0.03},{"t":5320,"v":0.08},{"t":5330,"v":0.02},{"t":5360,"v":0.01},{"t":5400,"v":0.01},{"t":5420,"v":0.03},{"t":5430,"v":0.01},{"t":5470,"v":0},{"t":5520,"v":0.01},{"t":5570,"v":0.01},{"t":5620,"v":0},{"t":5660,"v":0.01},{"t":5672,"v":0.04},{"t":5690,"v":0.02},{"t":5700,"v":0.01},{"t":5720,"v":0.03},
      {"t":5735,"v":0.18},{"t":5740,"v":0.05},{"t":5747,"v":0.49},{"t":5751,"v":0.2},{"t":5755,"v":0.46},{"t":5759,"v":0.15},{"t":5766,"v":0.3},{"t":5770,"v":0.1},{"t":5773,"v":0.18},{"t":5777,"v":0.08},{"t":5781,"v":0.43},{"t":5785,"v":0.15},{"t":5789,"v":1.57},{"t":5793,"v":0.11},{"t":5796,"v":0.1}
    ]
  },
  "layer": [
    {
      "data": {"name": "black"},
      "mark": {"type": "line", "color": "black", "strokeWidth": 1},
      "encoding": {
        "x": {
          "field": "t",
          "type": "quantitative",
          "scale": {"domain": [-231, 6038], "nice": false, "zero": false},
          "axis": {
            "values": [0, 1000, 2000, 3000, 4000, 5000, 6000],
            "format": "d",
            "labelBaseline": "alphabetic",
            "labelPadding": 25,
            "labelFlush": false,
            "labelOverlap": false,
            "title": "time",
            "titleAlign": "center",
            "titleBaseline": "alphabetic",
            "titleX": 276.5,
            "titleY": 73
          }
        },
        "y": {
          "field": "v",
          "type": "quantitative",
          "scale": {"domain": [-0.105, 2.722], "nice": false, "zero": false},
          "axis": {
            "values": [0, 0.5, 1, 1.5, 2, 2.5],
            "format": ".1f",
            "labelAngle": 270,
            "labelAlign": "center",
            "labelBaseline": "alphabetic",
            "labelPadding": 13.4,
            "labelFlush": false,
            "labelOverlap": false,
            "title": "movement velocity",
            "titleAngle": 270,
            "titleAlign": "center",
            "titleBaseline": "alphabetic",
            "titleX": -60.5,
            "titleY": 151.7
          }
        }
      }
    },
    {
      "data": {"name": "red"},
      "mark": {"type": "line", "color": "#DF536B", "strokeWidth": 1},
      "encoding": {
        "x": {"field": "t", "type": "quantitative"},
        "y": {"field": "v", "type": "quantitative"}
      }
    }
  ]
}
